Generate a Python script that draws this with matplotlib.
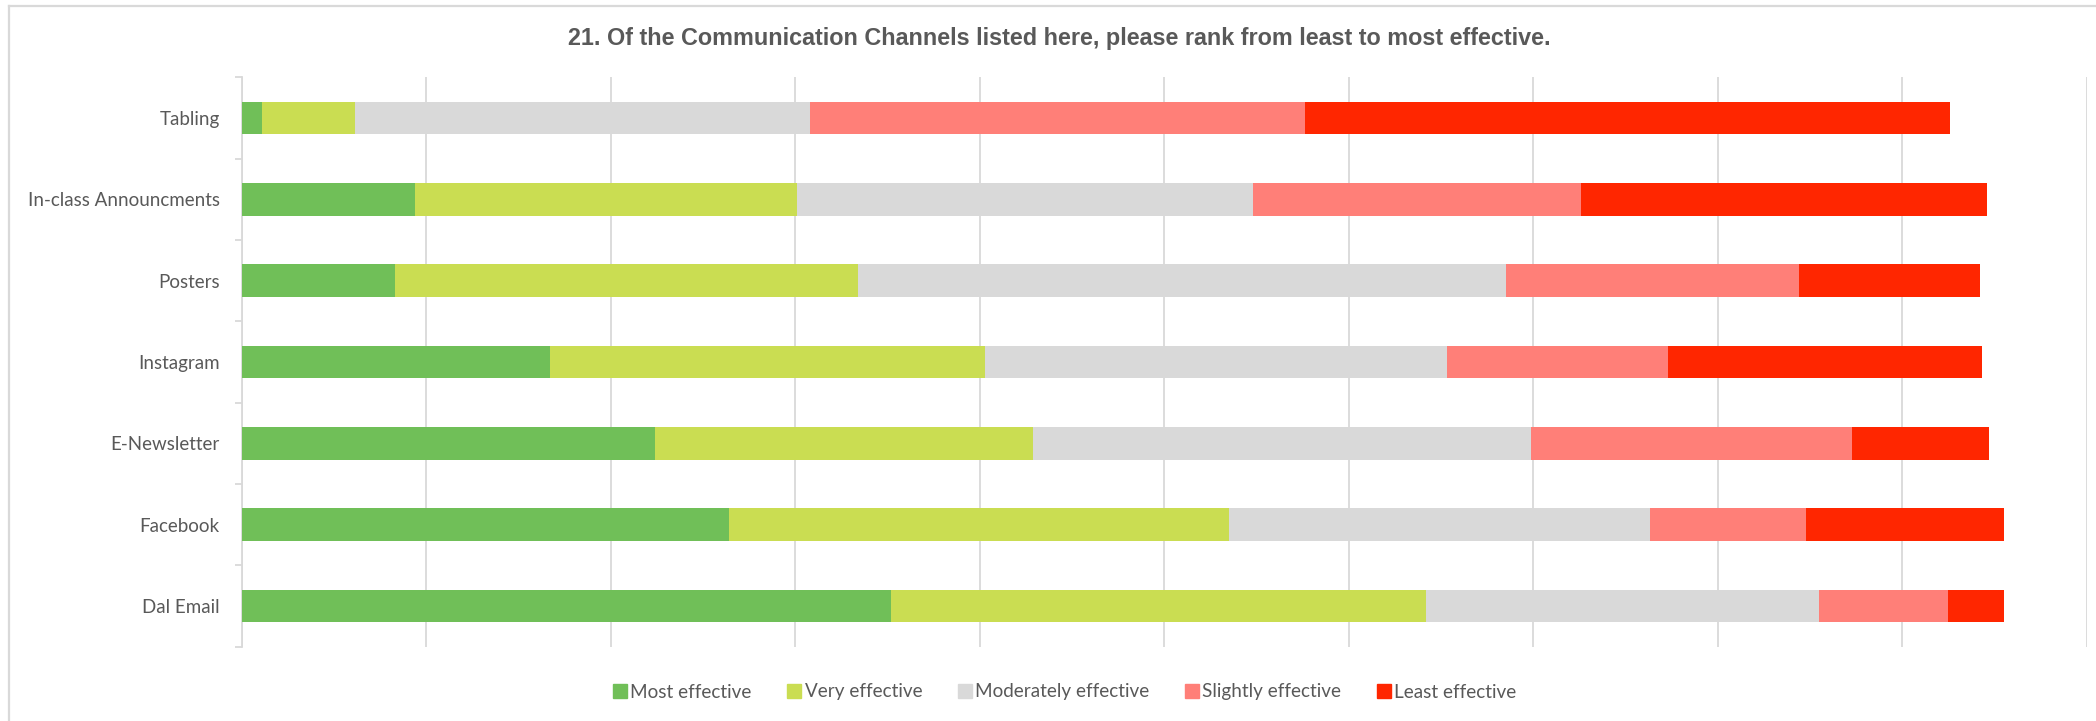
import matplotlib
matplotlib.use("Agg")
import matplotlib.pyplot as plt
from matplotlib.lines import Line2D
import numpy as np

categories = ["Tabling", "In-class Announcments", "Posters", "Instagram",
              "E-Newsletter", "Facebook", "Dal Email"]
series_names = ["Most effective", "Very effective", "Moderately effective",
                "Slightly effective", "Least effective"]
most_effective = [1.1, 9.4, 8.3, 16.7, 22.4, 26.4, 35.2]
very_effective = [5.0, 20.7, 25.1, 23.6, 20.5, 27.1, 29.0]
moderately_effective = [24.7, 24.7, 35.1, 25.0, 27.0, 22.8, 21.3]
slightly_effective = [26.8, 17.8, 15.9, 12.0, 17.4, 8.5, 7.0]
least_effective = [35.0, 22.0, 9.8, 17.0, 7.4, 10.7, 3.0]
title = "21. Of the Communication Channels listed here, please rank from least to most effective."

colors = ["#70BF58", "#CADD52", "#D9D9D9", "#FF7F78", "#FF2600"]
values = [most_effective, very_effective, moderately_effective,
          slightly_effective, least_effective]

W, H = 2096, 721
fig = plt.figure(figsize=(W / 100, H / 100), dpi=100)
ax = fig.add_axes([242 / W, 1 - 646.7 / H, (2086.7 - 242) / W, (646.7 - 77.3) / H])

label_font = "Lato"
text_color = "#595959"

y = np.arange(len(categories))
left = np.zeros(len(categories))
for vals, col, name in zip(values, colors, series_names):
    ax.barh(y, vals, left=left, height=0.4, color=col, label=name, zorder=3,
            edgecolor="none")
    left += np.array(vals)

ax.set_xlim(0, 100)
ax.set_ylim(len(categories) - 0.5, -0.5)
ax.set_xticks(np.arange(0, 101, 10))
ax.set_xticklabels([])
ax.tick_params(axis="x", length=0)
ax.grid(axis="x", color="#D9D9D9", linewidth=1.3, zorder=0)
ax.set_yticks(y)
ax.set_yticklabels(categories, fontsize=13.5, color=text_color, family=label_font)
ax.set_yticks(np.arange(-0.5, len(categories), 1.0), minor=True)
ax.tick_params(axis="y", which="major", length=0, pad=16)
ax.tick_params(axis="y", which="minor", length=5, width=1.3, color="#D9D9D9")
for s in ["top", "right", "bottom"]:
    ax.spines[s].set_visible(False)
ax.spines["left"].set_color("#D9D9D9")
ax.spines["left"].set_linewidth(1.3)

fig.text(1059 / W, 1 - 39 / H, title, ha="center", va="center", fontsize=16.8,
         fontweight="bold", color=text_color, family="Liberation Sans")

handles = [Line2D([0], [0], marker="s", linestyle="none", markersize=9.5,
                  markerfacecolor=c, markeredgecolor=c) for c in colors]
fig.legend(handles, series_names, loc="center", bbox_to_anchor=(1064 / W, 1 - 692 / H),
           ncol=5, frameon=False, handletextpad=0.1, columnspacing=1.8,
           prop={"family": label_font, "size": 13.6}, labelcolor=text_color,
           handlelength=0.9)

# outer chart frame (left and top edges visible)
fig.add_artist(Line2D([9 / W, 9 / W], [0, 1 - 6 / H], color="#D9D9D9", linewidth=1.6,
                      transform=fig.transFigure))
fig.add_artist(Line2D([9 / W, 1], [1 - 6 / H, 1 - 6 / H], color="#D9D9D9", linewidth=1.6,
                      transform=fig.transFigure))

fig.savefig("out.png", dpi=100)
